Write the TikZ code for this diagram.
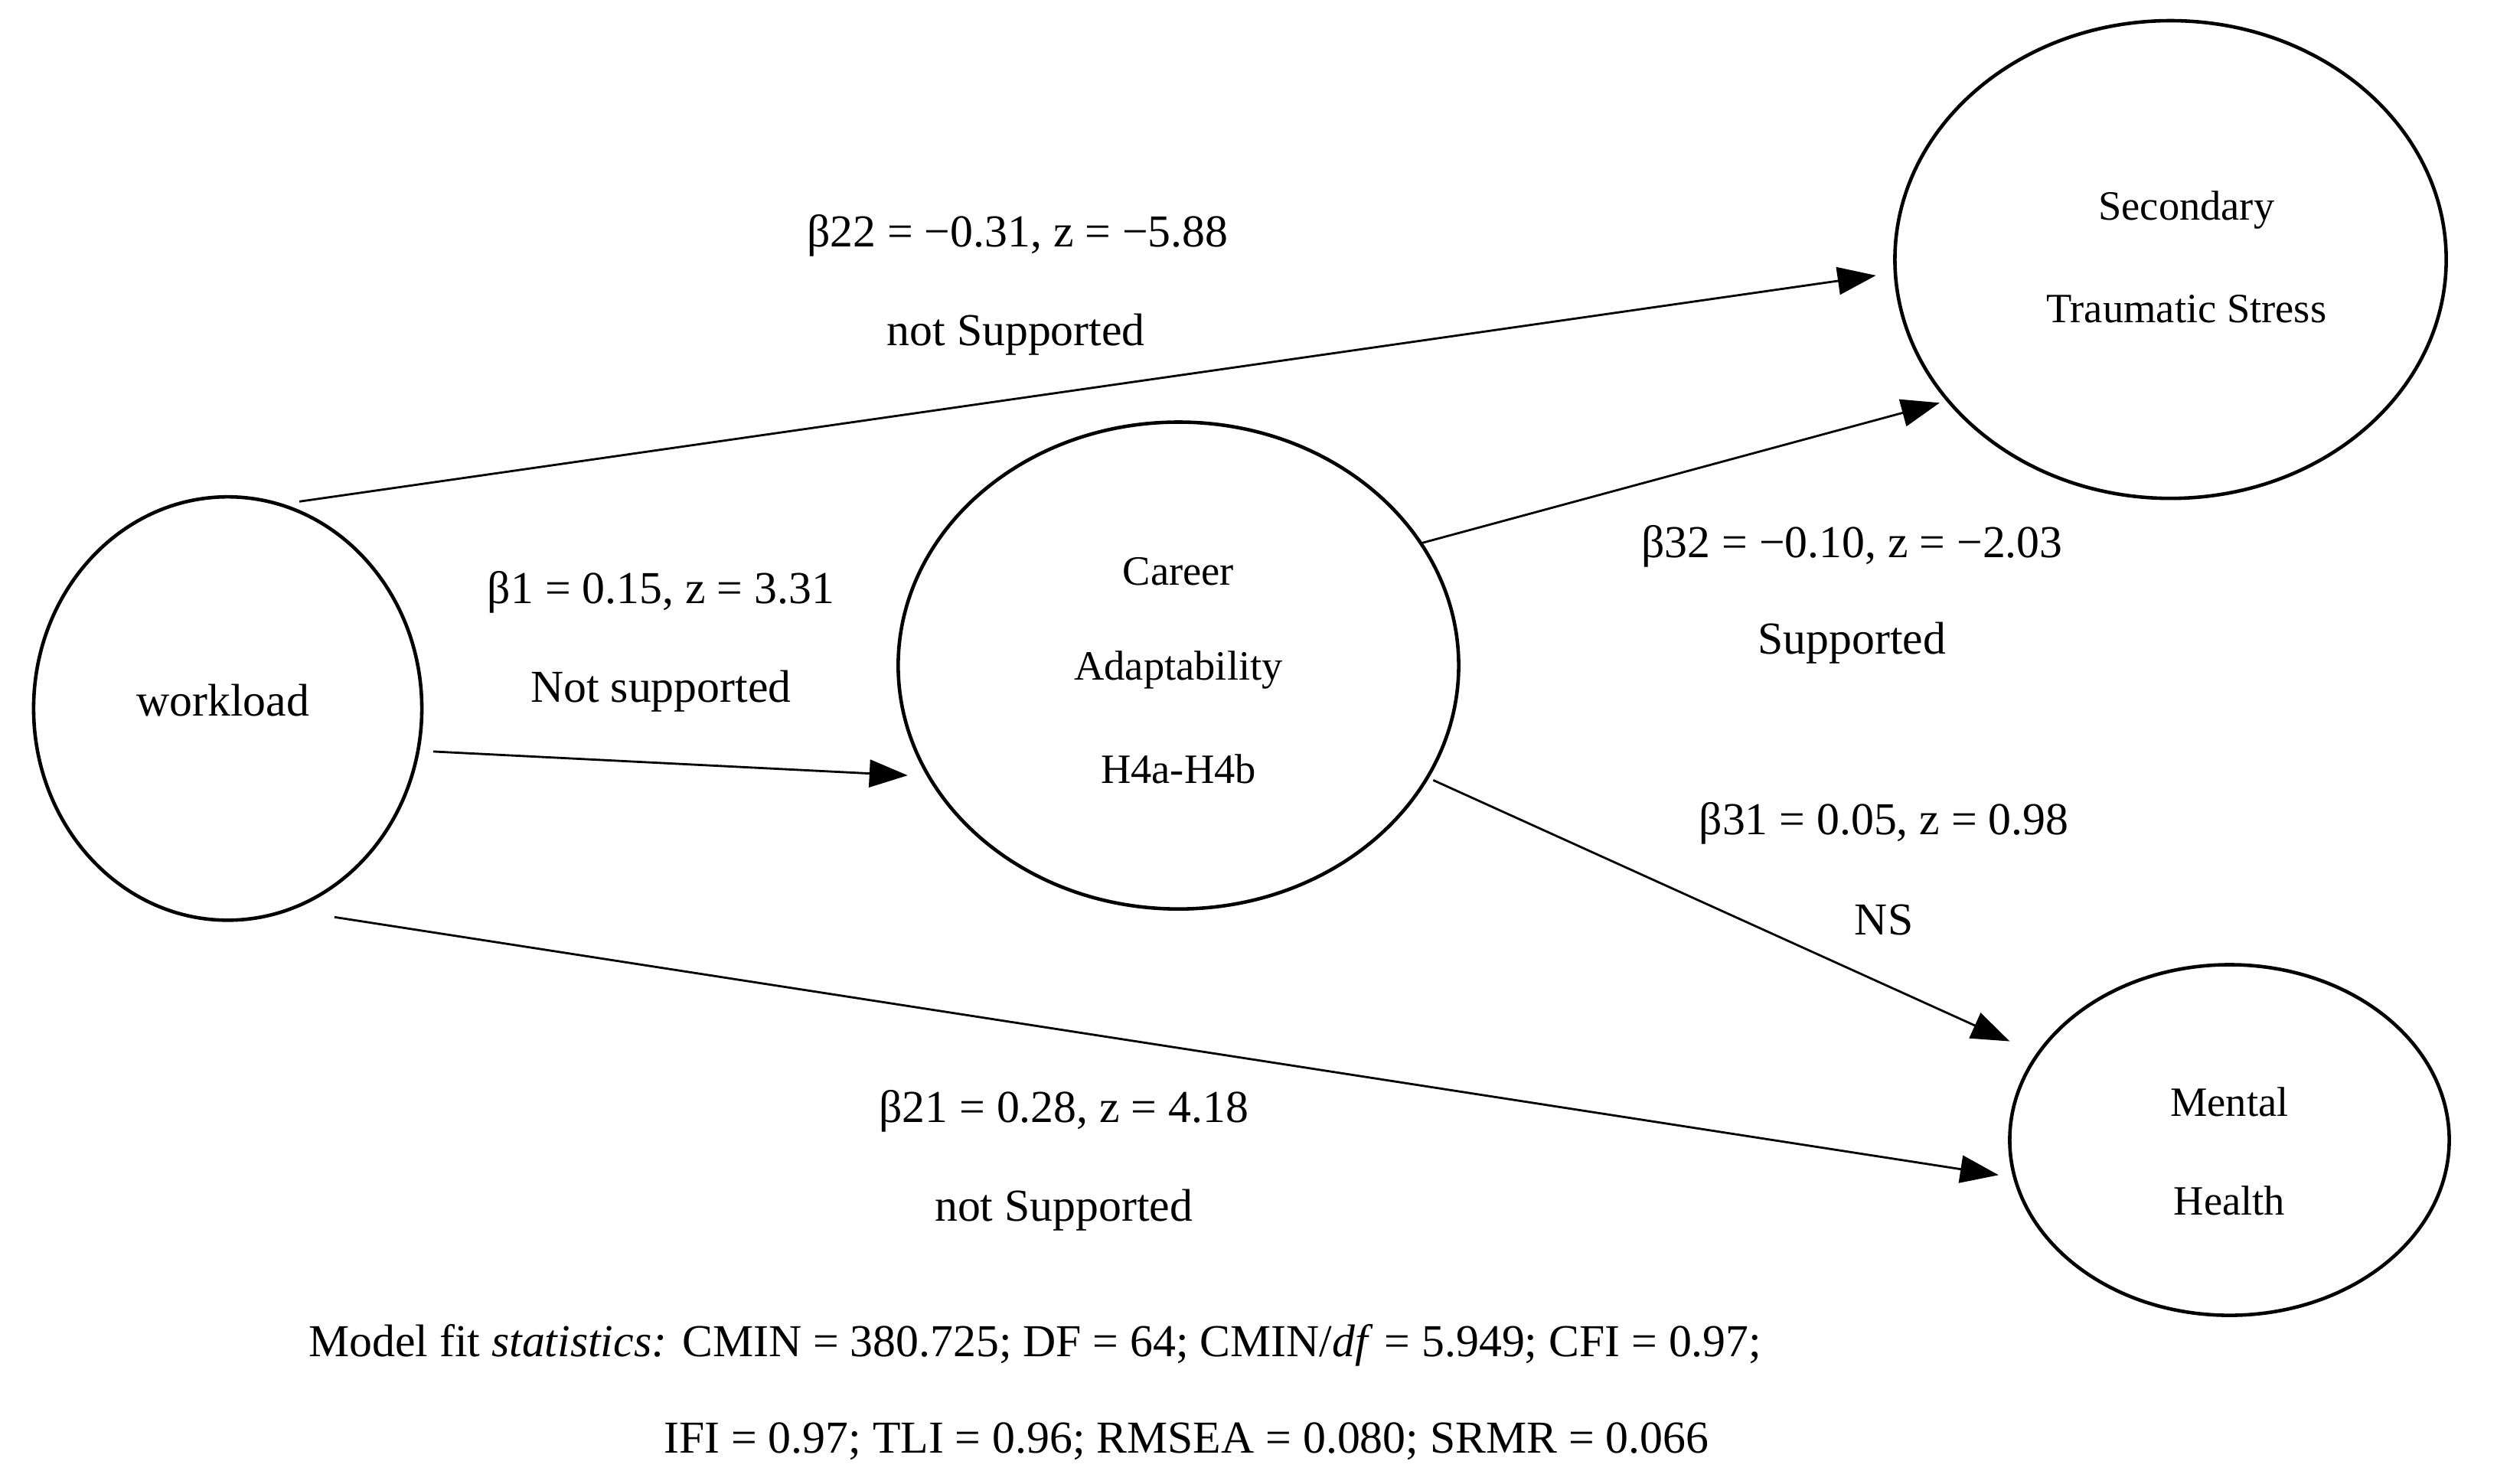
\documentclass[tikz,border=0pt]{standalone}
\usepackage{fontspec}
\setmainfont{Liberation Serif}
\usetikzlibrary{shapes.geometric,arrows.meta}
\begin{document}
\begin{tikzpicture}[x=0.0208cm,y=-0.0208cm,
  ell/.style={draw,ellipse,line width=1.3pt,inner sep=0pt},
  lab/.style={font=\fontsize{17}{20}\selectfont,anchor=center,inner sep=0pt},
  ntx/.style={font=\fontsize{15.5}{18}\selectfont,anchor=center,inner sep=0pt},
  arr/.style={line width=0.8pt,-{Triangle[length=0.5cm,width=0.36cm]}}]
\useasboundingbox (0,0) rectangle (1568,932);
\node[ell,minimum width=244\pgflinewidth*0+5.07cm,minimum height=5.53cm] (w) at (143,445) {};
\node[ell,minimum width=7.32cm,minimum height=6.36cm] (c) at (740,418) {};
\node[ell,minimum width=7.2cm,minimum height=6.24cm] (s) at (1363,163) {};
\node[ell,minimum width=5.74cm,minimum height=4.58cm] (m) at (1400,716) {};
\node[ntx,font=\fontsize{17}{20}\selectfont] (wt) at (140,440) {workload};
\node[ntx] (c1) at (740,359) {Career};
\node[ntx] (c2) at (740,421) {Adaptability};
\node[ntx] (c3) at (740,483) {H4a-H4b};
\node[ntx] (s1) at (1373,132) {Secondary};
\node[ntx] (s2) at (1373,194) {Traumatic Stress};
\node[ntx] (m1) at (1400,692) {Mental};
\node[ntx] (m2) at (1400,754) {Health};
\coordinate (a1) at (188,315); \coordinate (b1) at (1178,173);
\coordinate (a2) at (272,472); \coordinate (b2) at (570,487);
\coordinate (a3) at (210,576); \coordinate (b3) at (1255,738);
\coordinate (a4) at (893,341); \coordinate (b4) at (1218,253);
\coordinate (a5) at (900,490); \coordinate (b5) at (1262,654);
\draw[arr] (a1) -- (b1);
\draw[arr] (a2) -- (b2);
\draw[arr] (a3) -- (b3);
\draw[arr] (a4) -- (b4);
\draw[arr] (a5) -- (b5);
\node[lab] (l1) at (639,148) {β22 = −0.31, z = −5.88};
\node[lab] (l2) at (638,210) {not Supported};
\node[lab] (l3) at (415,372) {β1 = 0.15, z = 3.31};
\node[lab] (l4) at (415,434) {Not supported};
\node[lab] (l5) at (1163,343) {β32 = −0.10, z = −2.03};
\node[lab] (l6) at (1163,404) {Supported};
\node[lab] (l7) at (1183,517) {β31 = 0.05, z = 0.98};
\node[lab] (l8) at (1183,578) {NS};
\node[lab] (l9) at (668,698) {β21 = 0.28, z = 4.18};
\node[lab] (l10) at (668,760) {not Supported};
\node[lab] (f1) at (650,845) {Model fit \textit{statistics:} CMIN = 380.725; DF = 64; CMIN/\textit{df} = 5.949; CFI = 0.97;};
\node[lab] (f2) at (745,905) {IFI = 0.97; TLI = 0.96; RMSEA = 0.080; SRMR = 0.066};
\end{tikzpicture}
\end{document}
